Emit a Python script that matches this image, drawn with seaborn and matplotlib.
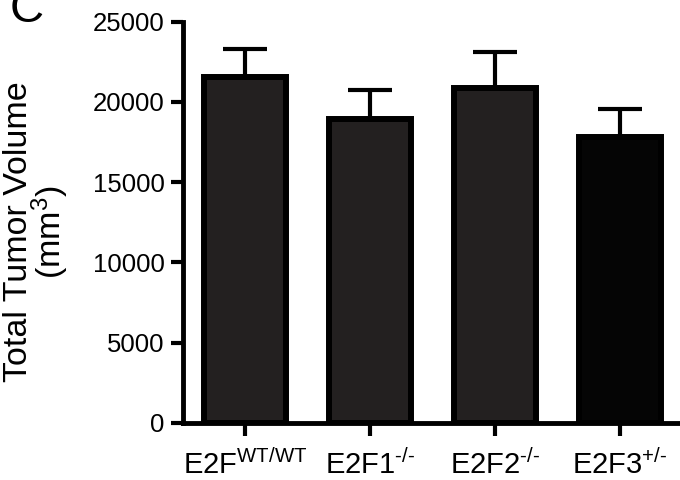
import matplotlib
matplotlib.use("Agg")
import matplotlib.pyplot as plt
import seaborn as sns
import pandas as pd
import numpy as np

# Total tumor volume per genotype (mean and upper SEM)
genotypes = ["E2F$^{WT/WT}$", "E2F1$^{\u2010/\u2010}$", "E2F2$^{\u2010/\u2010}$", "E2F3$^{+/\u2010}$"]
volumes = [21550, 18940, 20850, 17800]
sem = [1750, 1790, 2260, 1740]
bar_colors = ["#231f20", "#231f20", "#231f20", "#050505"]
y_ticks = [0, 5000, 10000, 15000, 20000, 25000]

sns.set_theme(style="ticks")
plt.rcParams["font.family"] = ["Liberation Sans", "DejaVu Sans"]
plt.rcParams["mathtext.fontset"] = "custom"
plt.rcParams["mathtext.rm"] = "Liberation Sans"
plt.rcParams["mathtext.it"] = "Liberation Sans"
plt.rcParams["mathtext.bf"] = "Liberation Sans:bold"
plt.rcParams["text.color"] = "black"
plt.rcParams["xtick.color"] = "black"
plt.rcParams["ytick.color"] = "black"
plt.rcParams["axes.labelcolor"] = "black"

df = pd.DataFrame({"genotype": genotypes, "volume": volumes})

fig = plt.figure(figsize=(6.8, 4.8), dpi=100)
ax = fig.add_axes([0.2684, 0.11875, 0.7353, 0.8361])

sns.barplot(data=df, x="genotype", y="volume", hue="genotype",
            palette=bar_colors, legend=False, width=0.65,
            edgecolor="black", linewidth=4.3, ax=ax, zorder=3)

# upward-only error bars
x_pos = np.arange(len(genotypes))
ax.errorbar(x_pos, volumes, yerr=[np.zeros(len(sem)), sem], fmt="none",
            ecolor="black", elinewidth=3, capsize=16, capthick=3, zorder=2)

ax.set_xlim(-0.5, 3.5)
ax.set_ylim(0, 25000)
ax.set_yticks(y_ticks)
ax.set_yticklabels([str(v) for v in y_ticks])
ax.set_xlabel("")
ax.set_ylabel("")

for side in ["top", "right"]:
    ax.spines[side].set_visible(False)
for side in ["left", "bottom"]:
    ax.spines[side].set_linewidth(3.5)
    ax.spines[side].set_color("black")
ax.spines["bottom"].set_zorder(4)

ax.tick_params(axis="y", length=9, width=3, labelsize=18.5, pad=4, color="black")
ax.tick_params(axis="x", length=9, width=3, labelsize=21, pad=10, color="black")

# two-line y axis title
fig.text(37 / 680, 1 - 232 / 480, "Total Tumor Volume\n(mm$^3$)", fontsize=24.5,
         rotation=90, ha="center", va="center", multialignment="center",
         linespacing=0.85)

fig.text(0.014, 0.954, "C", fontsize=34, ha="left", va="baseline")

fig.savefig("out.png", dpi=100)
